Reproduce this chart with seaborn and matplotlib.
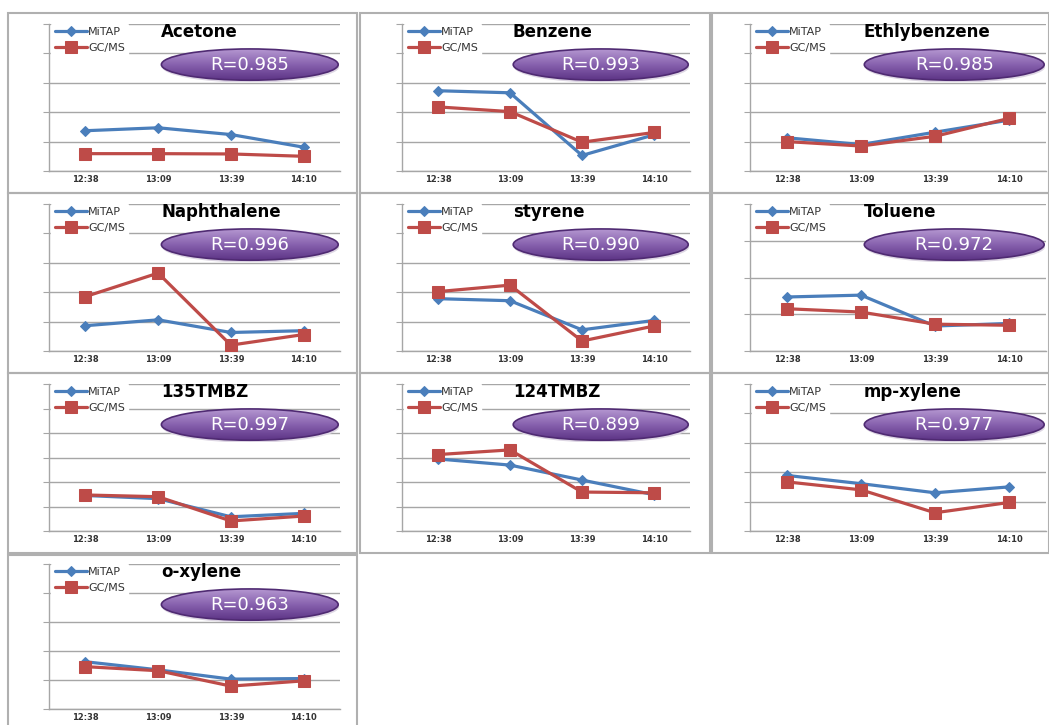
import numpy as np
import pandas as pd
import seaborn as sns
import matplotlib
matplotlib.use("Agg")
from matplotlib import pyplot as plt
from matplotlib.patches import Ellipse, Rectangle
from matplotlib.colors import LinearSegmentedColormap

# data (arbitrary units, one gridline = 1)
times = ['12:38', '13:09', '13:39', '14:10']

acetone_mitap = [1.37, 1.47, 1.24, 0.81]
acetone_gcms = [0.59, 0.59, 0.58, 0.50]
benzene_mitap = [2.73, 2.66, 0.53, 1.23]
benzene_gcms = [2.18, 2.02, 0.98, 1.31]
ethyl_mitap = [1.13, 0.90, 1.32, 1.73]
ethyl_gcms = [1.00, 0.85, 1.18, 1.79]
naph_mitap = [0.86, 1.06, 0.63, 0.69]
naph_gcms = [1.85, 2.65, 0.20, 0.56]
styrene_mitap = [1.78, 1.71, 0.72, 1.04]
styrene_gcms = [2.02, 2.24, 0.34, 0.85]
toluene_mitap = [1.47, 1.52, 0.68, 0.75]
toluene_gcms = [1.15, 1.06, 0.73, 0.70]
tmbz135_mitap = [1.45, 1.32, 0.58, 0.72]
tmbz135_gcms = [1.47, 1.40, 0.41, 0.61]
tmbz124_mitap = [2.94, 2.69, 2.08, 1.48]
tmbz124_gcms = [3.12, 3.31, 1.59, 1.56]
mpx_mitap = [1.89, 1.61, 1.30, 1.50]
mpx_gcms = [1.67, 1.40, 0.62, 0.97]
ox_mitap = [1.63, 1.35, 1.03, 1.05]
ox_gcms = [1.46, 1.32, 0.79, 0.97]

names = ['Acetone', 'Benzene', 'Ethlybenzene', 'Naphthalene', 'styrene',
         'Toluene', '135TMBZ', '124TMBZ', 'mp-xylene', 'o-xylene']
r_vals = ['0.985', '0.993', '0.985', '0.996', '0.990',
          '0.972', '0.997', '0.899', '0.977', '0.963']
mitap = [acetone_mitap, benzene_mitap, ethyl_mitap, naph_mitap, styrene_mitap,
         toluene_mitap, tmbz135_mitap, tmbz124_mitap, mpx_mitap, ox_mitap]
gcms = [acetone_gcms, benzene_gcms, ethyl_gcms, naph_gcms, styrene_gcms,
        toluene_gcms, tmbz135_gcms, tmbz124_gcms, mpx_gcms, ox_gcms]
y_top = [5, 5, 5, 5, 5, 4, 6, 6, 5, 5]

BLUE = '#4a7ebb'
RED = '#be4b48'
GRID = '#a6a6a6'

sns.set_style("white")
plt.rcParams['font.family'] = ['DejaVu Sans']

W, H = 1049, 725
fig = plt.figure(figsize=(W / 100, H / 100), dpi=100)
fig.patch.set_facecolor('white')

# panel layout in pixels
row_top = [13, 193, 373, 555]
col_left = [8, 360, 712]
col_w = [349, 350, 337]
ax_off = [41, 42, 38]
ax_w = [291, 288, 296]

def frect(x, y, w, h):
    return [x / W, 1 - (y + h) / H, w / W, h / H]

grad_cmap = LinearSegmentedColormap.from_list('purp', ['#5b3284', '#8660ad', '#b496d0'])

for i, name in enumerate(names):
    r, c = divmod(i, 3)
    px, py = col_left[c], row_top[r]
    ph = 180 if r < 3 else 172
    fig.patches.append(Rectangle((px / W, 1 - (py + ph) / H), col_w[c] / W, ph / H,
                                 transform=fig.transFigure, fill=False,
                                 edgecolor='#b0b0b0', lw=1.5, zorder=0))

    top_off = 11 if r < 3 else 9
    ah = 147 if r < 3 else 145
    ax = fig.add_axes(frect(px + ax_off[c], py + top_off, ax_w[c], ah))
    df = pd.DataFrame({'time': times, 'MiTAP': mitap[i], 'GC/MS': gcms[i]})
    df['x'] = np.arange(len(times))
    sns.lineplot(data=df, x='x', y='MiTAP', ax=ax, color=BLUE, lw=2.3,
                 marker='D', markersize=5, markeredgecolor=BLUE, label='MiTAP', zorder=3)
    sns.lineplot(data=df, x='x', y='GC/MS', ax=ax, color=RED, lw=2.3,
                 marker='s', markersize=8, markeredgecolor=RED, label='GC/MS', zorder=4)

    ax.set_xlim(-0.5, 3.5)
    ax.set_ylim(0, y_top[i])
    ax.set_xticks(df['x'])
    ax.set_xticklabels(times, fontsize=6, fontweight='bold', color='#333333')
    ax.set_xticks(np.arange(-0.5, 4, 1), minor=True)
    ax.set_yticks(np.arange(0, y_top[i] + 1, 1))
    ax.set_yticklabels([])
    ax.tick_params(axis='x', which='major', length=0, pad=3)
    ax.tick_params(axis='x', which='minor', length=4, color=GRID, direction='out')
    ax.tick_params(axis='y', length=4, color=GRID, direction='out', left=True)
    ax.set_xlabel('')
    ax.set_ylabel('')
    ax.grid(axis='y', color=GRID, lw=1.0)
    ax.set_axisbelow(True)
    for s in ['top', 'right']:
        ax.spines[s].set_visible(False)
    for s in ['left', 'bottom']:
        ax.spines[s].set_color(GRID)
        ax.spines[s].set_linewidth(1.0)

    leg = ax.legend(loc='upper left', bbox_to_anchor=(0.0, 1.02), fontsize=8,
                    frameon=True, facecolor='white', edgecolor='white', framealpha=1,
                    handlelength=2.9, handletextpad=0.1, labelspacing=0.6,
                    borderaxespad=0.2, borderpad=0.3)
    leg.set_zorder(6)
    for t in leg.get_texts():
        t.set_color('#333333')

    ax.text(0.385, 0.945, name, transform=ax.transAxes, ha='left', va='center',
            fontsize=12, fontweight='bold', color='black', zorder=7)

    # purple ellipse badge with R value
    axw = ax_w[c]
    ex = px + ax_off[c] + 0.38 * axw
    ew = 0.62 * axw
    ey = py + top_off + 0.165 * 147
    eh = 34
    eax = fig.add_axes(frect(ex, ey, ew, eh))
    eax.set_xlim(0, 1)
    eax.set_ylim(0, 1)
    eax.axis('off')
    shadow = Ellipse((0.505, 0.45), 0.98, 0.92, facecolor='#ddd6e3',
                     edgecolor='none', zorder=0)
    eax.add_patch(shadow)
    grad = np.linspace(0, 1, 64).reshape(-1, 1)
    im = eax.imshow(grad, extent=(0.0, 1.0, 0.04, 0.98), origin='lower', cmap=grad_cmap,
                    aspect='auto', interpolation='bilinear', zorder=2)
    ell = Ellipse((0.5, 0.52), 0.98, 0.92, facecolor='none', edgecolor='#4f2a72',
                  lw=1.2, zorder=3)
    eax.add_patch(ell)
    im.set_clip_path(ell)
    eax.set_xlim(0, 1)
    eax.set_ylim(0, 1)
    eax.text(0.5, 0.52, 'R=' + r_vals[i], ha='center', va='center',
             fontsize=13, color='white', zorder=4)

fig.savefig('out.png', dpi=100, facecolor='white')
